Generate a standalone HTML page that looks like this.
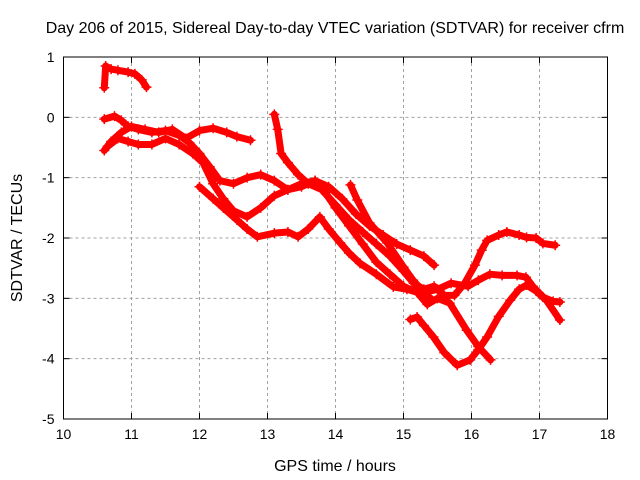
<!DOCTYPE html>
<html><head><meta charset="utf-8"><style>
body{margin:0;background:#fff}
svg{display:block;font-family:"Liberation Sans",sans-serif}
</style></head><body>
<svg id="chart" width="640" height="480" viewBox="0 0 640 480">
<rect x="0" y="0" width="640" height="480" fill="#fff"/>
<text x="335" y="33" font-size="16" text-anchor="middle">Day 206 of 2015, Sidereal Day-to-day VTEC variation (SDTVAR) for receiver cfrm</text>
<text x="335" y="471" font-size="16" text-anchor="middle">GPS time / hours</text>
<text x="22" y="238" font-size="16" text-anchor="middle" transform="rotate(-90 22 238)">SDTVAR / TECUs</text>
<g id="grid"></g>
<g id="ticks"></g>
<g id="series"></g>
<rect x="63.5" y="57" width="544" height="362" fill="none" stroke="#000" stroke-width="1"/>
</svg>
<script>
const xTicks=[10,11,12,13,14,15,16,17,18];
const yTicks=[1,0,-1,-2,-3,-4,-5];
const track1=[[10.6,0.49],[10.62,0.85],[10.7,0.8],[10.8,0.78],[10.95,0.75],[11.05,0.72],[11.15,0.62],[11.22,0.5]];
const track2=[[10.6,-0.03],[10.75,0.02],[10.85,-0.05],[10.95,-0.15],[11.1,-0.2],[11.3,-0.25],[11.5,-0.22],[11.7,-0.3],[11.85,-0.42],[12.0,-0.6],[12.15,-0.82],[12.3,-1.05],[12.5,-1.1],[12.7,-1.0],[12.9,-0.95],[13.1,-1.05],[13.3,-1.2],[13.5,-1.15],[13.7,-1.05],[13.9,-1.15],[14.1,-1.35],[14.3,-1.6],[14.5,-1.8],[14.7,-1.95],[14.9,-2.1],[15.1,-2.2],[15.3,-2.3],[15.45,-2.45]];
const track3=[[10.6,-0.55],[10.7,-0.4],[10.85,-0.25],[11.0,-0.15],[11.2,-0.2],[11.4,-0.25],[11.6,-0.2],[11.8,-0.35],[12.0,-0.22],[12.2,-0.18],[12.4,-0.25],[12.55,-0.32],[12.75,-0.38]];
const track4=[[10.65,-0.48],[10.8,-0.35],[10.95,-0.4],[11.1,-0.45],[11.3,-0.45],[11.5,-0.35],[11.7,-0.45],[11.9,-0.6],[12.05,-0.75],[12.2,-1.1],[12.35,-1.35],[12.5,-1.55],[12.7,-1.65],[12.9,-1.5],[13.1,-1.3],[13.3,-1.2],[13.5,-1.1],[13.7,-1.05],[13.85,-1.25],[14.0,-1.5],[14.2,-1.8],[14.4,-2.1],[14.6,-2.4],[14.8,-2.6],[15.0,-2.8],[15.2,-2.9],[15.4,-3.0]];
const track5=[[12.0,-1.15],[12.2,-1.35],[12.35,-1.5],[12.55,-1.7],[12.7,-1.85],[12.85,-1.98],[13.1,-1.92],[13.3,-1.9],[13.45,-1.98],[13.6,-1.85],[13.77,-1.65],[13.9,-1.85],[14.07,-2.08],[14.2,-2.25],[14.36,-2.42],[14.6,-2.6],[14.85,-2.81],[15.05,-2.85],[15.2,-2.9],[15.35,-3.1],[15.5,-3.0],[15.68,-3.08],[15.93,-3.53],[16.1,-3.8],[16.28,-4.02]];
const track6=[[13.1,0.05],[13.15,-0.2],[13.2,-0.6],[13.3,-0.75],[13.45,-0.95],[13.6,-1.1],[13.8,-1.2],[14.0,-1.45],[14.2,-1.7],[14.4,-1.9],[14.6,-2.1],[14.8,-2.3],[15.0,-2.55],[15.15,-2.75],[15.3,-2.85],[15.45,-2.8],[15.6,-2.95],[15.75,-2.95],[15.9,-2.75],[16.05,-2.45],[16.15,-2.2],[16.23,-2.04],[16.4,-1.95],[16.52,-1.9],[16.7,-1.95],[16.81,-1.99],[16.95,-2.0],[17.05,-2.09],[17.23,-2.12]];
const track7=[[14.22,-1.12],[14.32,-1.37],[14.5,-1.75],[14.76,-2.08],[15.0,-2.48],[15.14,-2.7],[15.3,-2.9],[15.5,-2.85],[15.7,-2.75],[15.95,-2.8],[16.1,-2.7],[16.27,-2.6],[16.45,-2.62],[16.67,-2.62],[16.8,-2.65],[16.9,-2.8],[17.1,-3.03],[17.3,-3.36]];
const track8=[[15.1,-3.35],[15.2,-3.31],[15.3,-3.45],[15.44,-3.64],[15.6,-3.9],[15.79,-4.11],[15.98,-4.02],[16.1,-3.85],[16.23,-3.64],[16.4,-3.3],[16.57,-3.03],[16.7,-2.85],[16.81,-2.78],[16.95,-2.88],[17.05,-2.98],[17.2,-3.05],[17.3,-3.06]];
const tracks=[track1,track2,track3,track4,track5,track6,track7,track8];

const NS='http://www.w3.org/2000/svg';
const X0=63.5,X1=607.5,Y0=57,Y1=419;
function sx(v){return X0+(v-10)/(18-10)*(X1-X0);}
function sy(v){return Y0+(1-v)/(1-(-5))*(Y1-Y0);}
function mk(tag,attrs,parent){const e=document.createElementNS(NS,tag);for(const k in attrs)e.setAttribute(k,attrs[k]);parent.appendChild(e);return e;}
const grid=document.getElementById('grid'),ticks=document.getElementById('ticks'),series=document.getElementById('series');
xTicks.forEach(t=>{
  const x=sx(t);
  if(t>10&&t<18){const g=mk('line',{x1:x,x2:x,y1:Y0,y2:Y1,stroke:'#a0a0a0','stroke-dasharray':'3,3'},grid);
  
  }
  mk('line',{x1:x,x2:x,y1:Y1,y2:Y1-6,stroke:'#000'},ticks);
  mk('line',{x1:x,x2:x,y1:Y0,y2:Y0+6,stroke:'#000'},ticks);
  const l=mk('text',{x:x,y:Y1+20,'font-size':14,'text-anchor':'middle'},ticks);l.textContent=t;
  
  
});
yTicks.forEach(t=>{
  const y=sy(t);
  if(t<1&&t>-5){const g=mk('line',{x1:X0,x2:X1,y1:y,y2:y,stroke:'#a0a0a0','stroke-dasharray':'3,3'},grid);
  
  }
  mk('line',{x1:X0,x2:X0+6,y1:y,y2:y,stroke:'#000'},ticks);
  mk('line',{x1:X1,x2:X1-6,y1:y,y2:y,stroke:'#000'},ticks);
  const l=mk('text',{x:X0-9,y:y+5,'font-size':14,'text-anchor':'end'},ticks);l.textContent=t;
  
  
});
tracks.forEach((tr,i)=>{
  const pl=mk('polyline',{points:tr.map(p=>sx(p[0])+','+sy(p[1])).join(' '),fill:'none',stroke:'#f00','stroke-width':7,'stroke-linejoin':'round','stroke-linecap':'round'},series);
  
  
  tr.forEach(p=>{
    const x=sx(p[0]),y=sy(p[1]);
    const m=mk('path',{d:`M${x-5},${y}H${x+5}M${x},${y-5}V${y+5}`,stroke:'#f00','stroke-width':1.5},series);
    
    
  });
});
</script>
</body></html>
